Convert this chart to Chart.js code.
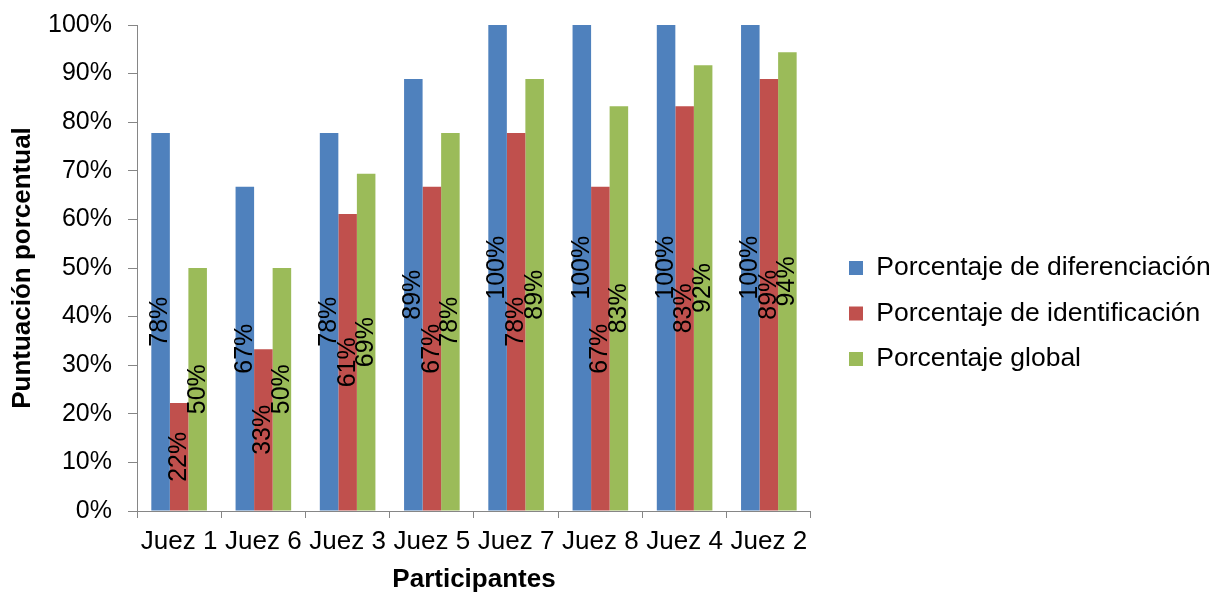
<!DOCTYPE html>
<html><head><meta charset="utf-8">
<script src="https://cdn.jsdelivr.net/npm/chart.js@4.4.1/dist/chart.umd.min.js"></script>
<style>html,body{margin:0;padding:0;background:#fff}#wrap{width:1225px;height:594px}</style>
</head><body><div id="wrap"><canvas id="c" width="1225" height="594"></canvas></div>
<script>
const categories = ['Juez 1','Juez 6','Juez 3','Juez 5','Juez 7','Juez 8','Juez 4','Juez 2'];
const seriesNames = ['Porcentaje de diferenciación','Porcentaje de identificación','Porcentaje global'];
const diferenciacion = [77.8, 66.7, 77.8, 88.9, 100, 100, 100, 100];
const identificacion = [22.2, 33.3, 61.1, 66.7, 77.8, 66.7, 83.3, 88.9];
const globalPct = [50, 50, 69.4, 77.8, 88.9, 83.3, 91.7, 94.4];
const yTickLabels = ['0%','10%','20%','30%','40%','50%','60%','70%','80%','90%','100%'];
const colors = ['#4F81BD','#C0504D','#9BBB59'];

const FONT = '"Liberation Sans", Arial, sans-serif';
Chart.defaults.font.family = FONT;
Chart.defaults.color = '#000';

const barLabels = {
  id: 'barLabels',
  afterDatasetsDraw(chart) {
    const ctx = chart.ctx;
    ctx.save();
    ctx.font = '25px ' + FONT;
    ctx.fillStyle = '#000';
    ctx.textAlign = 'center';
    ctx.textBaseline = 'middle';
    chart.data.datasets.forEach((ds, i) => {
      const meta = chart.getDatasetMeta(i);
      meta.data.forEach((el, j) => {
        const cy = (el.y + el.base) / 2;
        ctx.save();
        ctx.translate(el.x, cy);
        ctx.rotate(-Math.PI / 2);
        ctx.fillText(Math.round(ds.data[j]) + '%', 0, 0);
        ctx.restore();
      });
    });
    ctx.restore();
  }
};

const legendShift = {
  id: 'legendShift',
  afterLayout(chart) {
    const l = chart.legend;
    if (l) {
      l.left = chart.chartArea.right + 19;
      l.right = chart.width;
      l.width = l.right - l.left;
      l.top += 4; l.bottom += 4;
    }
  }
};

new Chart(document.getElementById('c'), {
  type: 'bar',
  data: {
    labels: categories,
    datasets: [
      { label: seriesNames[0], data: diferenciacion, backgroundColor: colors[0] },
      { label: seriesNames[1], data: identificacion, backgroundColor: colors[1] },
      { label: seriesNames[2], data: globalPct, backgroundColor: colors[2] }
    ]
  },
  options: {
    responsive: false,
    animation: false,
    devicePixelRatio: 1,
    datasets: { bar: { categoryPercentage: 0.66, barPercentage: 1.0 } },
    layout: { padding: { top: 25, right: 143.7, bottom: 0, left: 0 } },
    plugins: {
      legend: {
        position: 'right',
        labels: { boxWidth: 14, boxHeight: 14, padding: 19, color: '#000', font: { size: 26.5 } }
      },
      tooltip: { enabled: false }
    },
    scales: {
      x: {
        grid: { display: true, drawOnChartArea: false, drawTicks: true, tickLength: 7, color: '#868686', offset: true },
        border: { color: '#868686', width: 1 },
        ticks: { color: '#000', font: { size: 26 }, padding: 8, maxRotation: 0, autoSkip: false },
        title: { display: true, text: 'Participantes', color: '#000', font: { size: 26, weight: 'bold', lineHeight: 1 }, padding: { top: 0, bottom: 1 } },
        afterFit(s) { s.height = 83; }
      },
      y: {
        min: 0, max: 100,
        ticks: { stepSize: 10, callback: (v, i) => yTickLabels[i], color: '#000', font: { size: 25 }, padding: 16 },
        grid: { drawOnChartArea: false, tickLength: 9, color: '#868686' },
        border: { color: '#868686', width: 1 },
        title: { display: true, text: 'Puntuación porcentual', color: '#000', font: { size: 26, weight: 'bold' }, padding: { top: 7, bottom: 0 } },
        afterFit(s) { s.width = 137; s.paddingTop = 0; s.paddingBottom = 0; }
      }
    }
  },
  plugins: [barLabels, legendShift]
});
</script>
</body></html>
